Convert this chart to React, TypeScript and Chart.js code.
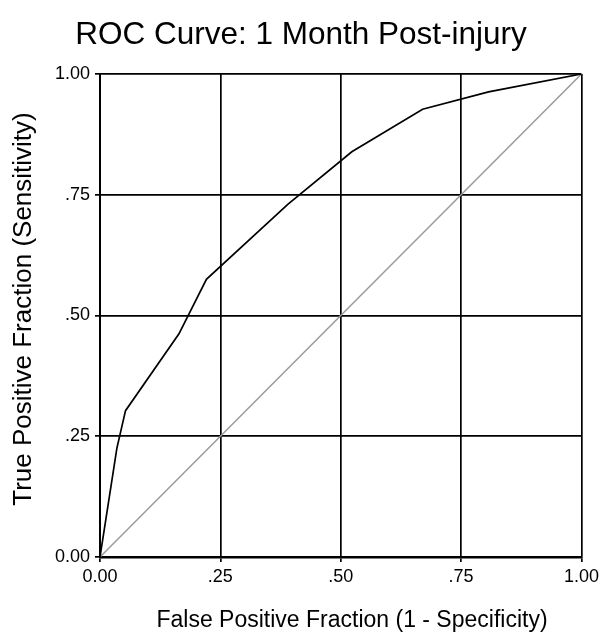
import React, { useEffect, useRef } from "react";
import { Chart, registerables } from "chart.js";

Chart.register(...registerables);

const fpf = [0, 0.035, 0.053, 0.164, 0.221, 0.39, 0.523, 0.67, 0.807, 1];
const tpf = [0, 0.225, 0.303, 0.462, 0.575, 0.73, 0.839, 0.927, 0.963, 1];
const refX = [0, 1];
const refY = [0, 1];
const tickValues = [0, 0.25, 0.5, 0.75, 1];
const tickLabels = ["0.00", ".25", ".50", ".75", "1.00"];
const titleText = "ROC Curve: 1 Month Post-injury";
const xTitle = "False Positive Fraction (1 - Specificity)";
const yTitle = "True Positive Fraction (Sensitivity)";

const FONT = "'Liberation Sans', Arial, Helvetica, sans-serif";

function labelFor(v: number): string {
  const i = tickValues.findIndex((t) => Math.abs(t - v) < 1e-9);
  return i >= 0 ? tickLabels[i] : "";
}

const textPlugin = {
  id: "textPlugin",
  afterDraw(chart: any) {
    const ctx = chart.ctx;
    ctx.save();
    ctx.fillStyle = "#000";
    ctx.textBaseline = "alphabetic";
    ctx.textAlign = "center";
    ctx.font = `31.5px ${FONT}`;
    ctx.fillText(titleText, 301, 44);
    ctx.font = `23px ${FONT}`;
    ctx.fillText(xTitle, 352, 627);
    ctx.font = `26px ${FONT}`;
    ctx.translate(31, 309);
    ctx.rotate(-Math.PI / 2);
    ctx.fillText(yTitle, 0, 0);
    ctx.restore();
  },
};

export default function App() {
  const ref = useRef<HTMLCanvasElement | null>(null);
  useEffect(() => {
    if (!ref.current) return;
    const chart = new Chart(ref.current, {
      type: "scatter",
      data: {
        datasets: [
          {
            label: "Reference",
            data: refX.map((x, i) => ({ x, y: refY[i] })),
            showLine: true,
            borderColor: "#9a9a9a",
            borderWidth: 1.5,
            pointRadius: 0,
            order: 2,
          },
          {
            label: "ROC",
            data: fpf.map((x, i) => ({ x, y: tpf[i] })),
            showLine: true,
            borderColor: "#000",
            borderWidth: 1.7,
            pointRadius: 0,
            order: 1,
          },
        ],
      },
      options: {
        animation: false,
        responsive: false,
        devicePixelRatio: 1,
        layout: { padding: { top: 74, right: 20, bottom: 0, left: 0 } },
        plugins: {
          legend: { display: false },
          title: { display: false },
          tooltip: { enabled: false },
        },
        scales: {
          x: {
            type: "linear",
            min: 0,
            max: 1,
            afterFit: (s: any) => {
              s.height = 78;
            },
            afterBuildTicks: (s: any) => {
              s.ticks = tickValues.map((v) => ({ value: v }));
            },
            ticks: {
              color: "#000",
              font: { family: FONT, size: 18 },
              padding: 4,
              maxRotation: 0,
              callback: (v: any) => labelFor(Number(v)),
            },
            grid: { color: "#000", lineWidth: 1.7, tickLength: 5 },
            border: { color: "#000", width: 2.5 },
          },
          y: {
            type: "linear",
            min: 0,
            max: 1,
            afterFit: (s: any) => {
              s.width = 100;
            },
            afterBuildTicks: (s: any) => {
              s.ticks = tickValues.map((v) => ({ value: v }));
            },
            ticks: {
              color: "#000",
              font: { family: FONT, size: 18 },
              padding: 5,
              callback: (v: any) => labelFor(Number(v)),
            },
            grid: { color: "#000", lineWidth: 1.7, tickLength: 5 },
            border: { color: "#000", width: 2 },
          },
        },
      },
      plugins: [textPlugin],
    });
    return () => chart.destroy();
  }, []);
  return (
    <div style={{ position: "fixed", left: 0, top: 0, width: 603, height: 635, background: "#fff" }}>
      <canvas ref={ref} width={603} height={635} style={{ width: 603, height: 635, display: "block" }} />
    </div>
  );
}
